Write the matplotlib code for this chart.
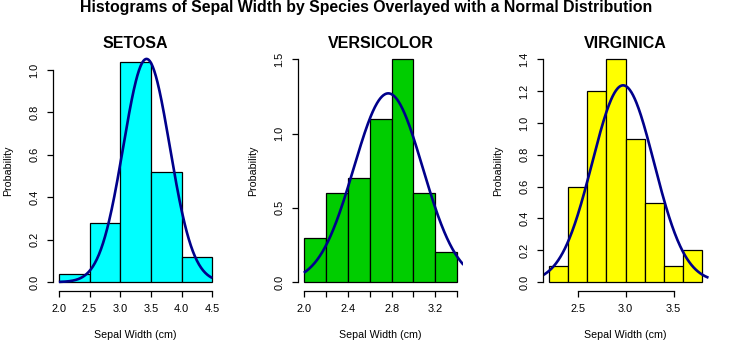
import numpy as np
import matplotlib
matplotlib.use("Agg")
import matplotlib.pyplot as plt

plt.rcParams['font.family'] = ['Liberation Sans', 'DejaVu Sans']

species = ["SETOSA", "VERSICOLOR", "VIRGINICA"]
colors = ["#00FFFF", "#00CD00", "#FFFF00"]

setosa_breaks = [2.0, 2.5, 3.0, 3.5, 4.0, 4.5]
setosa_density = [0.04, 0.28, 1.04, 0.52, 0.12]
versicolor_breaks = [2.0, 2.2, 2.4, 2.6, 2.8, 3.0, 3.2, 3.4]
versicolor_density = [0.3, 0.6, 0.7, 1.1, 1.5, 0.6, 0.2]
virginica_breaks = [2.2, 2.4, 2.6, 2.8, 3.0, 3.2, 3.4, 3.6, 3.8]
virginica_density = [0.1, 0.6, 1.2, 1.4, 0.9, 0.5, 0.1, 0.2]

means = [3.428, 2.770, 2.974]
sds = [0.3791, 0.3138, 0.3225]
curve_ranges = [(2.0, 4.5), (2.0, 3.456), (2.136, 3.864)]

xticks = [[2.0, 2.5, 3.0, 3.5, 4.0, 4.5],
          [2.0, 2.2, 2.4, 2.6, 2.8, 3.0, 3.2, 3.4],
          [2.5, 3.0, 3.5]]
xticklabels = [["2.0", "2.5", "3.0", "3.5", "4.0", "4.5"],
               ["2.0", "", "2.4", "", "2.8", "", "3.2", ""],
               ["2.5", "3.0", "3.5"]]
yticks = [[0.0, 0.2, 0.4, 0.6, 0.8, 1.0],
          [0.0, 0.5, 1.0, 1.5],
          [0.0, 0.2, 0.4, 0.6, 0.8, 1.0, 1.2, 1.4]]
yticklabels = [["0.0", "0.2", "0.4", "0.6", "0.8", "1.0"],
               ["0.0", "0.5", "1.0", "1.5"],
               ["0.0", "0.2", "0.4", "0.6", "0.8", "1.0", "1.2", "1.4"]]
ytop = [1.05, 1.5, 1.4]

breaks_all = [setosa_breaks, versicolor_breaks, virginica_breaks]
dens_all = [setosa_density, versicolor_density, virginica_density]

W, H = 736, 355
fig = plt.figure(figsize=(W / 100, H / 100), dpi=100)

ax_w, ax_h = 165.8, 240.5
for i in range(3):
    left_px = 52.7 + 245 * i
    ax = fig.add_axes([left_px / W, (H - 291) / H, ax_w / W, ax_h / H])
    b = np.array(breaks_all[i])
    d = np.array(dens_all[i])
    ax.bar(b[:-1], d, width=np.diff(b), align='edge', color=colors[i],
           edgecolor='black', linewidth=0.9)
    x = np.linspace(curve_ranges[i][0], curve_ranges[i][1], 300)
    y = np.exp(-0.5 * ((x - means[i]) / sds[i]) ** 2) / (sds[i] * np.sqrt(2 * np.pi))
    ax.plot(x, y, color='#00008B', linewidth=1.9, solid_capstyle='butt')
    rng = b[-1] - b[0]
    ax.set_xlim(b[0] - 0.04 * rng, b[-1] + 0.04 * rng)
    ax.set_ylim(-0.04 * ytop[i], ytop[i] * 1.04)
    ax.set_xticks(xticks[i])
    ax.set_xticklabels(xticklabels[i])
    ax.set_yticks(yticks[i])
    ax.set_yticklabels(yticklabels[i], rotation=90, va='center')
    for s in ['top', 'right']:
        ax.spines[s].set_visible(False)
    ax.spines['bottom'].set_bounds(xticks[i][0], xticks[i][-1])
    ax.spines['left'].set_bounds(yticks[i][0], yticks[i][-1])
    for s in ['bottom', 'left']:
        ax.spines[s].set_linewidth(0.9)
    ax.tick_params(axis='both', length=4.5, width=0.9, labelsize=7.9, pad=5)
    ax.set_title(species[i], fontsize=11.5, fontweight='bold', pad=1)
    ax.set_xlabel("Sepal Width (cm)", fontsize=7.7)
    ax.set_ylabel("Probability", fontsize=7.7)
    ax.xaxis.set_label_coords(0.5, -(335 - 291) / ax_h)
    ax.xaxis.label.set_va('center')
    ax.yaxis.set_label_coords(-(left_px - 245 * i - 8.3) / ax_w, 0.5)
    ax.yaxis.label.set_va('center')
    ax.yaxis.label.set_rotation_mode('default')
    ax.patch.set_alpha(0)

fig.text(366 / W, 1.0, "Histograms of Sepal Width by Species Overlayed with a Normal Distribution",
         ha='center', va='top', fontsize=11.4, fontweight='bold')

fig.savefig("out.png", dpi=100)
